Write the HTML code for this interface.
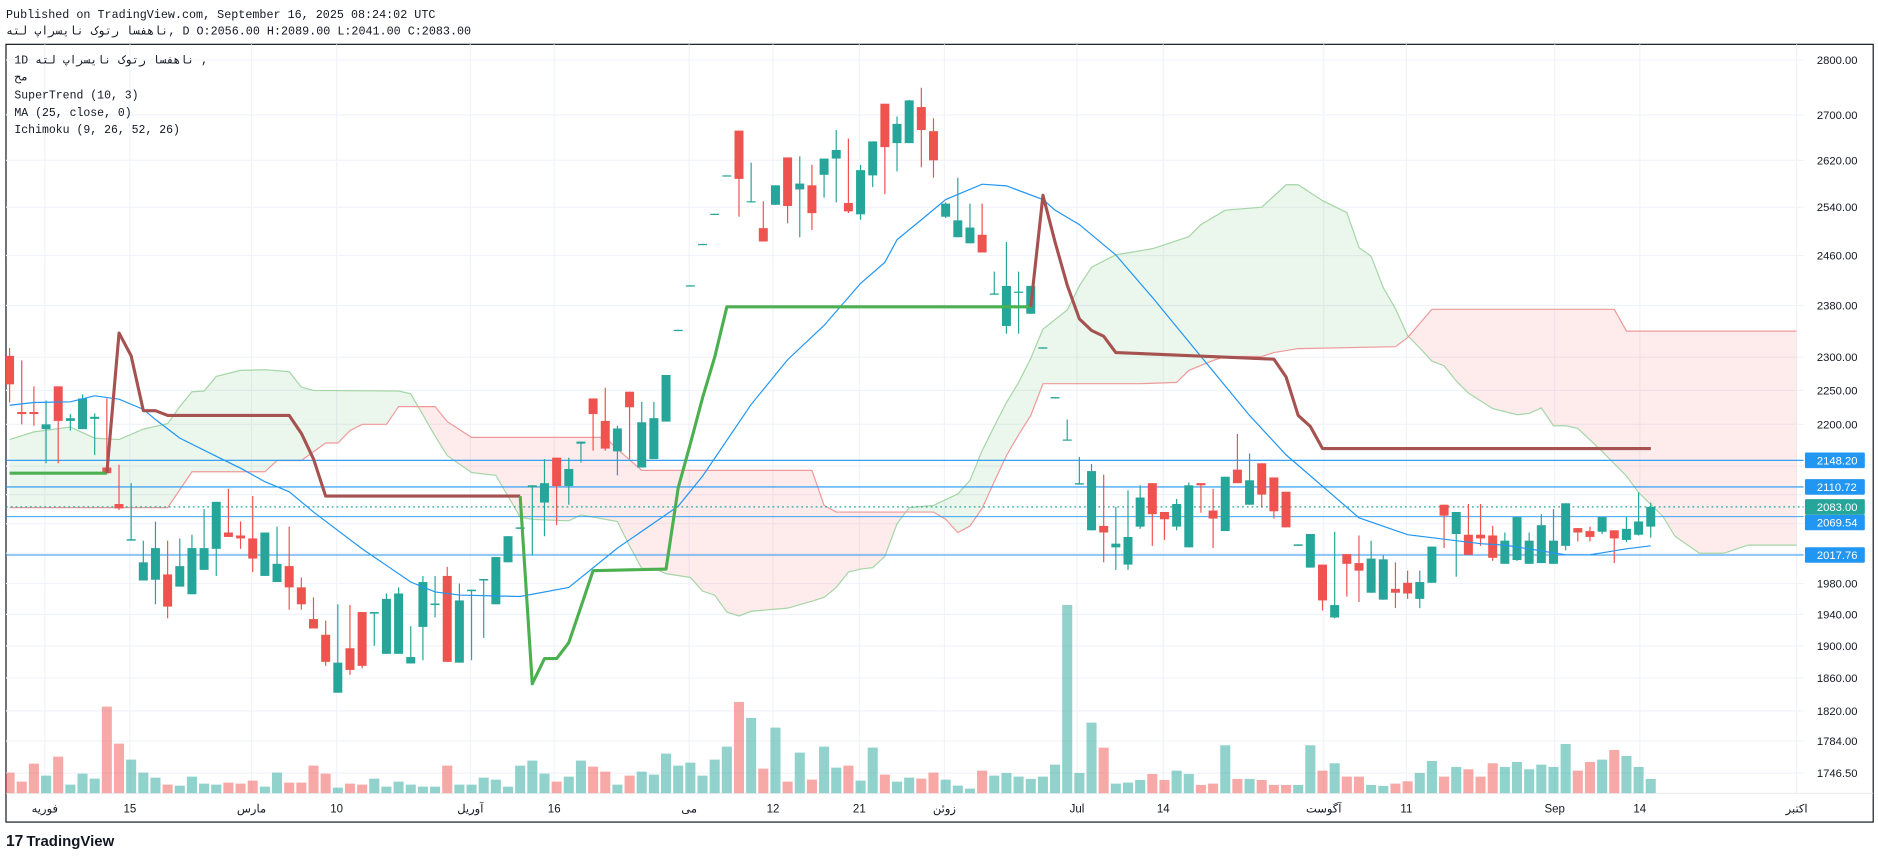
<!DOCTYPE html>
<html><head><meta charset="utf-8">
<style>
html,body{margin:0;padding:0;background:#fff;width:1878px;height:858px;overflow:hidden}
svg{display:block}
.mono{font-family:"Liberation Mono","DejaVu Sans Mono",monospace}
.sans{font-family:"Liberation Sans","Noto Sans CJK SC",sans-serif}
</style></head>
<body>
<svg id="chart" width="1878" height="858" viewBox="0 0 1568 716" preserveAspectRatio="none" xmlns="http://www.w3.org/2000/svg">
  <text class="mono" x="5" y="15" font-size="9.8" fill="#131722">Published on TradingView.com, September 16, 2025 08:24:02 UTC</text>
  <text class="mono" x="5" y="29" font-size="9.8" fill="#131722">ناهفسا رتوک نایسراپ لته, D O:2056.00 H:2089.00 L:2041.00 C:2083.00</text>
  <rect x="5" y="37" width="1559" height="649" fill="none" stroke="#131722" stroke-width="1"/>
  <g id="grid"></g>
  <g id="plot" clip-path="url(#plotClip)">
    <g id="cloud"></g>
    <g id="volume"></g>
    <g id="hlines"></g>
    <g id="candles"></g>
    <g id="ma"></g>
    <g id="st"></g>
  </g>
  <g id="yaxis"></g>
  <g id="xaxis"></g>
  <g class="mono" font-size="9.6" fill="#131722">
    <text x="12" y="53">1D ناهفسا رتوک نایسراپ لته ,</text>
    <text x="12" y="67">مح</text>
    <text x="12" y="82">SuperTrend (10, 3)</text>
    <text x="12" y="97">MA (25, close, 0)</text>
    <text x="12" y="111">Ichimoku (9, 26, 52, 26)</text>
  </g>
  <g>
    <text x="5" y="706" font-family="Liberation Sans,sans-serif" font-weight="bold" font-size="13" fill="#131722">17</text>
    <text x="22" y="706" font-family="Liberation Sans,sans-serif" font-weight="bold" font-size="12.5" fill="#131722">TradingView</text>
  </g>
</svg>
<script>
// ---- data ----
const opens  = [2302,2218,2218,2193,2256,2205,2193,2208,2138,2087,2037,1984,1985,1992,1976,1966,1998,2026,2048,2044,2040,1990,1982,2003,1975,1934,1914,1842,1897,1943,1941,1890,1890,1878,1924,1952,1990,1879,1970,1984,1953,2008,2053,2110,2089,2152,2112,2172,2238,2205,2161,2248,2138,2150,2204,2340,2410,2477,2527,2592,2672,2548,2505,2544,2625,2570,2577,2595,2623,2547,2528,2594,2720,2650,2650,2714,2671,2524,2490,2480,2494,2397,2348,2400,2367,2313,2238,2177,2114,2051,2057,2028,2005,2056,2116,2076,2056,2028,2116,2078,2050,2135,2086,2144,2124,2104,2030,2001,2005,1936,2019,2007,1968,1959,1973,1981,1960,1981,2086,2046,2045,2045,2044,2006,2011,2006,2007,2006,2030,2054,2050,2049,2051,2038,2045,2056];
const highs  = [2314,2295,2256,2235,2256,2215,2244,2216,2238,2142,2116,2037,2063,2037,2040,2045,2080,2090,2108,2063,2098,2048,2056,2056,1988,1962,1932,1953,1952,1943,1943,1967,1975,1925,1990,1990,2002,1980,1972,1986,2015,2043,2055,2113,2150,2152,2152,2175,2238,2254,2198,2248,2233,2233,2273,2342,2412,2479,2529,2594,2672,2616,2550,2577,2625,2627,2612,2623,2673,2658,2612,2653,2720,2697,2727,2749,2694,2548,2590,2546,2546,2434,2482,2434,2411,2315,2240,2207,2153,2143,2128,2083,2106,2113,2116,2076,2094,2117,2116,2108,2125,2186,2158,2144,2124,2104,2032,2046,2005,2049,2019,2044,2037,2017,2008,1997,1997,2029,2086,2076,2087,2087,2057,2048,2069,2048,2073,2080,2088,2054,2056,2069,2051,2069,2103,2089];
const lows   = [2232,2200,2198,2144,2144,2191,2193,2156,2130,2079,2037,1984,1953,1935,1976,1966,1998,1990,2042,2026,1995,1990,1982,1946,1946,1922,1875,1842,1864,1872,1900,1890,1890,1878,1882,1936,1880,1879,1882,1910,1953,2008,2053,2017,2043,2058,2086,2145,2162,2162,2127,2150,2138,2150,2204,2340,2410,2477,2527,2592,2524,2548,2483,2544,2513,2490,2502,2556,2548,2530,2519,2574,2562,2601,2650,2608,2590,2522,2490,2480,2465,2397,2336,2336,2367,2313,2238,2177,2114,2051,2008,1998,1998,2053,2030,2038,2051,2028,2075,2027,2050,2116,2086,2082,2067,2055,2030,2001,1945,1935,1963,1956,1968,1959,1948,1960,1948,1981,2027,1989,2018,2030,2010,2006,2010,2006,2007,2006,2024,2036,2036,2046,2007,2035,2044,2041];
const closes = [2259,2215,2215,2200,2205,2209,2238,2211,2130,2081,2039,2008,2027,1950,2003,2027,2027,2090,2042,2040,2013,2048,2006,1975,1953,1922,1880,1879,1870,1875,1943,1960,1967,1886,1982,1954,1880,1958,1972,1986,2015,2043,2055,2113,2116,2112,2136,2175,2215,2165,2194,2225,2203,2209,2273,2342,2412,2479,2529,2594,2588,2550,2483,2577,2542,2580,2530,2623,2638,2533,2603,2653,2643,2684,2726,2673,2620,2546,2518,2506,2465,2399,2411,2402,2411,2315,2240,2178,2116,2133,2048,2033,2042,2096,2073,2066,2087,2113,2113,2067,2125,2116,2120,2100,2077,2055,2032,2046,1958,1952,2006,1997,2013,2012,1968,1967,1982,2029,2071,2076,2018,2040,2014,2037,2069,2037,2058,2037,2088,2048,2042,2069,2040,2053,2063,2083];
const volumes = [62,35,89,53,110,26,59,44,260,149,101,62,47,26,23,50,29,26,32,29,38,20,62,32,32,83,59,17,29,26,44,20,35,26,20,20,83,26,26,47,41,20,83,98,59,35,50,98,80,65,26,53,65,56,119,83,92,53,101,140,274,226,74,197,35,122,41,140,77,83,38,137,56,35,47,44,62,41,23,14,68,53,61,50,43,50,86,565,61,212,137,29,32,40,58,40,68,58,25,29,144,43,43,40,25,25,25,144,68,90,50,50,25,22,29,36,61,97,50,79,72,50,90,79,94,72,86,79,148,68,94,101,130,112,79,43];

const maIdx = [0,2,5,7,9,11,12,14,17,19,21,23,25,29,33,35,37,42,46,50,55,57,61,64,67,70,72,73,75,77,80,82,85,86,88,91,94,98,102,105,109,111,115,117,121,123,128,130,133,135];
const maVal = [2228,2232,2233,2242,2237,2222,2207,2180,2154,2137,2118,2104,2076,2026,1982,1969,1965,1963,1975,2027,2084,2126,2229,2296,2349,2415,2449,2486,2519,2553,2579,2576,2553,2535,2511,2461,2393,2301,2213,2156,2097,2068,2045,2041,2033,2031,2018,2018,2026,2030];

const stGreen1Idx = [0,8];
const stGreen1Val = [2130,2130];
const stRed1Idx = [8,9,10,11,12,13,23,24,25,26,42];
const stRed1Val = [2130,2337,2302,2220,2220,2213,2213,2187,2150,2098,2098];
const stGreen2Idx = [42,43,44,45,46,47,48,54,55,56,57,58,59,84];
const stGreen2Val = [2098,1853,1884,1884,1904,1950,1997,1999,2110,2172,2239,2300,2378,2378];
const stRed2Idx = [84,85,86,87,88,89,90,91,104,105,106,107,108,135];
const stRed2Val = [2378,2560,2482,2412,2359,2341,2332,2307,2297,2270,2213,2197,2165,2165];

const spanAIdx = [0,2,5,7,9,11,13,14,15,16,17,19,21,23,24,25,32,33,35,36,38,40,42,43,46,47,50,51,52,53,54,56,57,58,59,60,61,64,66,67,68,69,70,71,72,73,74,76,78,79,80,81,82,83,84,85,87,88,89,91,94,97,98,100,103,105,106,108,110,111,112,113,114,115,116,117,118,119,120,122,124,125,126,127,128,129,131,133,134,136,137,139,141,143,147];
const spanAVal = [2178,2189,2196,2180,2178,2193,2201,2226,2248,2249,2271,2280,2281,2278,2255,2250,2249,2245,2183,2155,2131,2127,2069,2066,2064,2072,2063,2030,2000,2000,1993,1988,1970,1965,1943,1938,1944,1948,1957,1962,1975,1995,1999,2001,2016,2060,2082,2085,2101,2120,2162,2197,2232,2262,2298,2343,2373,2411,2441,2461,2471,2491,2511,2535,2540,2578,2578,2551,2531,2473,2459,2408,2375,2333,2314,2294,2287,2264,2246,2223,2214,2216,2224,2198,2198,2194,2161,2126,2103,2070,2043,2020,2020,2031,2031];
const spanBIdx = [0,13,15,21,22,24,26,27,28,29,31,32,35,36,38,49,50,52,66,67,68,76,77,78,79,80,81,82,83,84,85,93,96,97,99,100,103,104,106,114,115,117,132,133,147];
const spanBVal = [2082,2082,2132,2132,2148,2148,2173,2173,2191,2200,2200,2226,2226,2204,2181,2181,2164,2134,2134,2085,2076,2076,2066,2048,2057,2081,2118,2155,2185,2213,2260,2260,2262,2280,2295,2301,2301,2307,2313,2316,2330,2374,2374,2340,2340];

const priceTicks = [2800,2700,2620,2540,2460,2380,2300,2250,2200,1980,1940,1900,1860,1820,1784,1746.5];
const gridPrices = [2800,2700,2620,2540,2460,2380,2300,2250,2200,2140,2100,2060,2020,1980,1940,1900,1860,1820,1784,1746.5];
const levelPrices = [2148.2,2110.72,2069.54,2017.76];
const lastPrice = 2083.00;
const timeLabels = ['فوریه','15','مارس','10','آوریل','16','می','12','21','زوئن','Jul','14','آگوست','11','Sep','14','اکتبر'];
const timeIdx = [2.9,9.9,19.9,26.9,37.9,44.8,55.9,62.8,69.9,76.9,87.8,94.9,108.1,114.9,127.1,134.1,147.0];

// ---- axes ----
const SVGNS='http://www.w3.org/2000/svg';
const PL=5, PR=1506, PT=37, PB=662;
function xOf(i){return 8+10.15*i;}
function yOf(p){return 50+1261*Math.log(2800/p);}
function vy(v){return 662-v*0.2782;}
function mk(tag,attrs,parent){const e=document.createElementNS(SVGNS,tag);for(const k in attrs)e.setAttribute(k,attrs[k]);parent.appendChild(e);return e;}
const svg=document.getElementById('chart');
const defs=mk('defs',{},svg);
const cp=mk('clipPath',{id:'plotClip'},defs);
mk('rect',{x:PL,y:PT,width:PR-PL,height:PB-PT},cp);

// grid
const grid=document.getElementById('grid');
gridPrices.forEach(p=>{const l=mk('line',{x1:PL,x2:PR,y1:yOf(p),y2:yOf(p),stroke:'#f0f3fa','stroke-width':1},grid);

});
timeIdx.forEach(i=>{const l=mk('line',{x1:xOf(i),x2:xOf(i),y1:PT,y2:PB,stroke:'#f0f3fa','stroke-width':1},grid);

});
mk('line',{x1:PL,x2:1564,y1:PB,y2:PB,stroke:'#e0e3eb','stroke-width':0.6},grid);

// cloud
const cloud=document.getElementById('cloud');
const aPts=spanAIdx.map((i,k)=>[xOf(i),yOf(spanAVal[k])]);
const bPts=spanBIdx.map((i,k)=>[xOf(i),yOf(spanBVal[k])]);
const ps=a=>a.map(p=>p[0].toFixed(1)+','+p[1].toFixed(1)).join(' ');
const x0=xOf(0), x1=xOf(147);
const cA=mk('clipPath',{id:'aboveB'},defs);
mk('polygon',{points:ps(bPts)+' '+x1+','+0+' '+x0+','+0},cA);
const cB=mk('clipPath',{id:'belowB'},defs);
mk('polygon',{points:ps(bPts)+' '+x1+','+700+' '+x0+','+700},cB);
const band=ps(aPts)+' '+ps(bPts.slice().reverse());
const g1=mk('polygon',{points:band,fill:'rgba(76,175,80,0.11)','clip-path':'url(#aboveB)'},cloud);


const r1=mk('polygon',{points:band,fill:'rgba(242,54,69,0.10)','clip-path':'url(#belowB)'},cloud);


const la=mk('polyline',{points:ps(aPts),fill:'none',stroke:'#a5d6a7','stroke-width':1},cloud);


const lb=mk('polyline',{points:ps(bPts),fill:'none',stroke:'#ef9a9a','stroke-width':1},cloud);



// volume
const vol=document.getElementById('volume');
volumes.forEach((v,i)=>{const up=closes[i]>=opens[i];
const r=mk('rect',{x:xOf(i)-4.2,y:vy(v),width:8.4,height:662-vy(v),fill:up?'rgba(38,166,154,0.5)':'rgba(239,83,80,0.5)'},vol);

});

// level lines
const hl=document.getElementById('hlines');
levelPrices.forEach((p,k)=>{const l=mk('line',{x1:PL,x2:PR,y1:yOf(p),y2:yOf(p),stroke:'#2196f3','stroke-width':k<2?1:0.8},hl);

});
const ll=mk('line',{x1:PL,x2:PR,y1:yOf(lastPrice),y2:yOf(lastPrice),stroke:'#26a69a','stroke-width':1,'stroke-dasharray':'1.5,2.5'},hl);



// candles
const cg=document.getElementById('candles');
opens.forEach((o,i)=>{const c=closes[i],up=c>=o,col=up?'#26a69a':'#ef5350',x=xOf(i);
const w=mk('line',{x1:x,x2:x,y1:yOf(highs[i]),y2:yOf(lows[i]),stroke:col,'stroke-width':1},cg);


const yt=yOf(Math.max(o,c)),yb=yOf(Math.min(o,c));
const b=mk('rect',{x:x-3.75,y:yt,width:7.5,height:Math.max(1,yb-yt),fill:col},cg);

});

// MA
const ma=mk('polyline',{points:ps(maIdx.map((i,k)=>[xOf(i),yOf(maVal[k])])),fill:'none',stroke:'#2196f3','stroke-width':1},document.getElementById('ma'));



// supertrend
const stg=document.getElementById('st');
[[stGreen1Idx,stGreen1Val,'#4caf50'],[stRed1Idx,stRed1Val,'#a55250'],[stGreen2Idx,stGreen2Val,'#4caf50'],[stRed2Idx,stRed2Val,'#a55250']].forEach(s=>{
const l=mk('polyline',{points:ps(s[0].map((i,k)=>[xOf(i),yOf(s[1][k])])),fill:'none',stroke:s[2],'stroke-width':2.6,'stroke-linejoin':'round'},stg);

});

// y axis
const ya=document.getElementById('yaxis');
priceTicks.forEach(p=>{const t=mk('text',{x:1517,y:yOf(p)+3.3,'font-size':9.4,fill:'#131722',class:'sans'},ya);
t.textContent=p.toFixed(2);

});
function tag(p,col,name,off){const y=yOf(p)+off;
const r=mk('rect',{x:1507,y:y-6.5,width:50,height:13,fill:col,rx:1},ya);


const t=mk('text',{x:1517,y:y+3.3,'font-size':9.4,fill:'#fff',class:'sans'},ya);
t.textContent=p.toFixed(2);

}
levelPrices.forEach(p=>{const dl=yOf(p)-yOf(lastPrice);tag(p,'#2196f3','level-price-tag',(dl>0&&dl<13)?13-dl:0);});
tag(lastPrice,'#26a69a','last-price-tag',0);

// x axis
const xa=document.getElementById('xaxis');
timeLabels.forEach((s,k)=>{const t=mk('text',{x:xOf(timeIdx[k]),y:678,'font-size':9.6,fill:'#131722','text-anchor':'middle',class:'sans'},xa);
t.textContent=s;

});
</script>
</body></html>
